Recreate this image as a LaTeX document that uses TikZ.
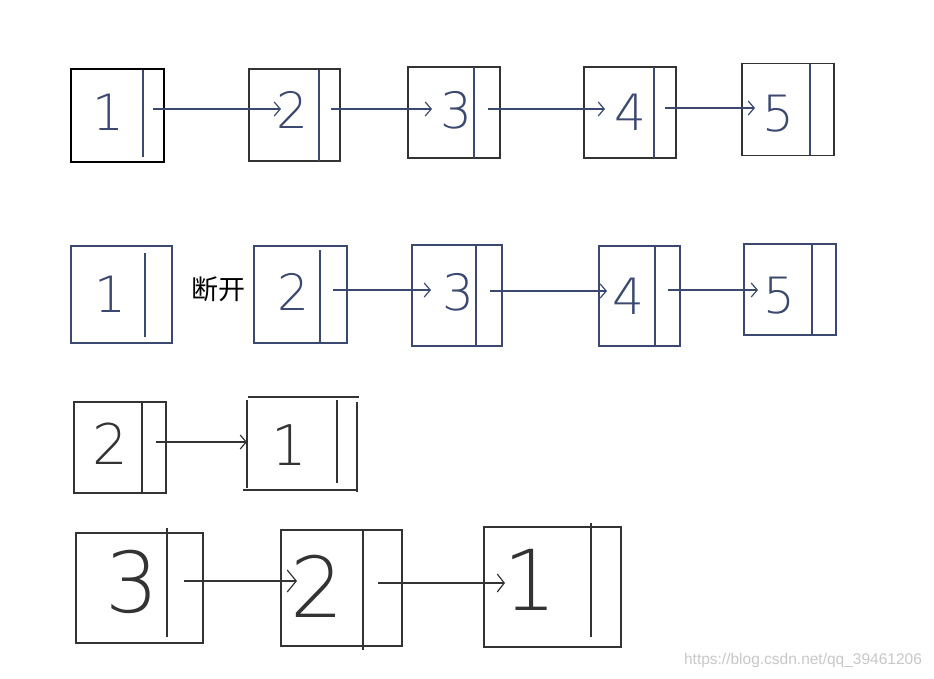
\documentclass[tikz,border=0pt]{standalone}
\usepackage{fontspec}
\usetikzlibrary{arrows.meta}
\newfontfamily\digfont{DejaVu Sans ExtraLight}
\newfontfamily\cjk{Noto Sans CJK SC}
\setmainfont{Liberation Sans}
\definecolor{ink}{HTML}{3B4870}
\definecolor{gray1}{HTML}{333333}
\definecolor{wm}{HTML}{C8C8C8}
\tikzset{
  cell/.style={draw=#1, line width=1.2pt, rectangle, inner sep=0pt},
  cell/.default=gray1,
  divider/.style={draw=#1, line width=1.4pt},
  divider/.default=ink,
  dig/.style={font=\digfont\fontsize{50}{50}\selectfont, text=#1, inner sep=0pt},
  dig/.default=ink,
  arr/.style={draw=#1, line width=1.2pt, -{Straight Barb[length=6pt,width=14pt,line width=1.2pt]}},
  arr/.default=ink,
}
\begin{document}
\begin{tikzpicture}[x=1pt,y=-1pt]
\useasboundingbox[fill=white] (0,0) rectangle (934,678);
% ---------- row 1 ----------
\node[cell=black, line width=2pt, minimum width=93pt, minimum height=93pt] (r1a) at (117.5,115.5) {};
\node[cell, minimum width=91pt, minimum height=92pt] (r1b) at (294.5,115) {};
\node[cell, minimum width=92pt, minimum height=91pt] (r1c) at (454,112.5) {};
\node[cell, minimum width=92pt, minimum height=91pt] (r1d) at (630,112.5) {};
\node[cell, minimum width=92pt, minimum height=92pt] (r1e) at (788,109.5) {};
\draw[divider] (143,70) -- (143,157);
\draw[divider] (319,70) -- (319,161);
\draw[divider] (474,67) -- (474,158);
\draw[divider] (654,67) -- (654,158);
\draw[divider] (810,64) -- (810,155);
\node[dig] (d1a) at (108,112) {1};
\node[dig] (d1b) at (292,110) {2};
\node[dig] (d1c) at (456,110) {3};
\node[dig] (d1d) at (630,112) {4};
\node[dig] (d1e) at (778,114) {5};
\coordinate (s1a) at (153,109); \coordinate (t1b) at (281,109);
\coordinate (s1b) at (331,109); \coordinate (t1c) at (432,109);
\coordinate (s1c) at (488,109); \coordinate (t1d) at (605,109);
\coordinate (s1d) at (665,108); \coordinate (t1e) at (755,108);
\draw[arr] (s1a) -- (t1b);
\draw[arr] (s1b) -- (t1c);
\draw[arr] (s1c) -- (t1d);
\draw[arr] (s1d) -- (t1e);
% ---------- row 2 ----------
\node[cell=ink, minimum width=101pt, minimum height=97pt] (r2a) at (121.5,294.5) {};
\node[cell=ink, minimum width=93pt, minimum height=97pt] (r2b) at (300.5,294.5) {};
\node[cell=ink, minimum width=90pt, minimum height=101pt] (r2c) at (457,295.5) {};
\node[cell=ink, minimum width=81pt, minimum height=100pt] (r2d) at (639.5,296) {};
\node[cell=ink, minimum width=92pt, minimum height=91pt] (r2e) at (790,289.5) {};
\draw[divider] (145,253) -- (145,337);
\draw[divider] (320,250) -- (320,342);
\draw[divider] (476,246) -- (476,345);
\draw[divider] (655,247) -- (655,345);
\draw[divider] (812,244) -- (812,335);
\node[dig] (d2a) at (110,294) {1};
\node[dig] (d2b) at (293,292) {2};
\node[dig] (d2c) at (458,292) {3};
\node[dig] (d2d) at (628,296) {4};
\node[dig] (d2e) at (779,296) {5};
\node[font=\cjk\fontsize{27}{27}\selectfont, inner sep=0pt] (cut) at (218,289) {断开};
\coordinate (s2b) at (333,290); \coordinate (t2c) at (431,290);
\coordinate (s2c) at (490,291); \coordinate (t2d) at (607,291);
\coordinate (s2d) at (668,290); \coordinate (t2e) at (758,290);
\draw[arr] (s2b) -- (t2c);
\draw[arr] (s2c) -- (t2d);
\draw[arr] (s2d) -- (t2e);
% ---------- row 3 ----------
\node[cell, minimum width=92pt, minimum height=91pt] (r3a) at (120,447.5) {};
\draw[divider=gray1] (142,402) -- (142,493);
\node[dig=gray1, font=\digfont\fontsize{56}{56}\selectfont] (d3a) at (110,444) {2};
\draw[gray1, line width=1.2pt] (248,397) -- (359,397);
\draw[gray1, line width=1.2pt] (243,490) -- (357,490);
\draw[gray1, line width=1.2pt] (247,400) -- (247,488);
\draw[gray1, line width=1.2pt] (357,402) -- (357,492);
\draw[divider=gray1] (337,400) -- (337,483);
\node[dig=gray1, font=\digfont\fontsize{56}{56}\selectfont] (d3b) at (289,445) {1};
\coordinate (s3a) at (156,442); \coordinate (t3b) at (247,442);
\draw[arr=gray1] (s3a) -- (t3b);
% ---------- row 4 ----------
\node[cell, minimum width=127pt, minimum height=110pt] (r4a) at (139.5,588) {};
\node[cell, minimum width=121pt, minimum height=116pt] (r4b) at (341.5,588) {};
\node[cell, minimum width=137pt, minimum height=120pt] (r4c) at (552.5,587) {};
\draw[divider=gray1] (167,528) -- (167,637);
\draw[divider=gray1] (363,530) -- (363,650);
\draw[divider=gray1] (591,523) -- (591,637);
\node[dig=gray1, font=\digfont\fontsize{84}{84}\selectfont] (d4a) at (132,582) {3};
\node[dig=gray1, font=\digfont\fontsize{84}{84}\selectfont] (d4b) at (317,586) {2};
\node[dig=gray1, font=\digfont\fontsize{84}{84}\selectfont] (d4c) at (530,580) {1};
\coordinate (s4a) at (184,581); \coordinate (t4b) at (297,581);
\coordinate (s4b) at (378,583); \coordinate (t4c) at (505,583);
\draw[arr=gray1, -{Straight Barb[length=9pt,width=22pt,line width=1.2pt]}] (s4a) -- (t4b);
\draw[arr=gray1, -{Straight Barb[length=7pt,width=18pt,line width=1.2pt]}] (s4b) -- (t4c);
% ---------- watermark ----------
\node[font=\fontsize{15.5}{15.5}\selectfont, text=wm, inner sep=0pt] (wmk) at (803,660) {https://blog.csdn.net/qq\_39461206};
\end{tikzpicture}
\end{document}
